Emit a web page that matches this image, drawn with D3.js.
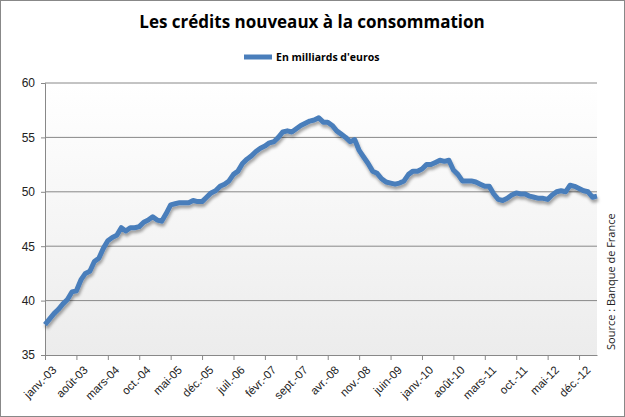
<!DOCTYPE html><html><head><meta charset="utf-8"><script src="https://cdn.jsdelivr.net/npm/d3@7"></script>
<style>body{margin:0;background:#fff}svg{font-family:"Open Sans",sans-serif}</style></head><body><svg id="c" width="625" height="417"></svg><script>
const tickLabels=["janv.-03","août-03","mars-04","oct.-04","mai-05","déc.-05","juil.-06","févr.-07","sept.-07","avr.-08","nov.-08","juin-09","janv.-10","août-10","mars-11","oct.-11","mai-12","déc.-12"];
const values=[37.8,38.3,38.8,39.2,39.7,40.1,40.8,40.9,
41.9,42.5,42.7,43.6,43.9,44.8,45.5,
45.8,46.0,46.7,46.4,46.7,46.7,46.8,
47.2,47.4,47.7,47.4,47.3,48.0,48.8,
48.9,49.0,49.0,49.0,49.2,49.1,49.1,
49.5,49.9,50.1,50.5,50.7,51.0,51.6,
51.9,52.6,53.0,53.3,53.7,54.0,54.2,
54.5,54.6,55.0,55.5,55.6,55.5,55.8,
56.1,56.3,56.5,56.6,56.8,56.4,56.4,
56.1,55.6,55.3,55.0,54.6,54.8,53.8,
53.2,52.6,51.9,51.7,51.2,50.9,50.8,
50.7,50.8,51.0,51.6,51.9,51.9,52.1,
52.5,52.5,52.7,52.9,52.8,52.9,52.0,
51.6,51.0,51.0,51.0,50.9,50.7,50.5,
50.5,49.8,49.3,49.2,49.4,49.7,49.9,
49.8,49.8,49.6,49.5,49.4,49.4,49.3,
49.7,50.0,50.1,50.0,50.6,50.5,50.3,
50.1,50.0,49.5,49.6];
const yTicks=[35,40,45,50,55,60];
const svg=d3.select("#c");
svg.append("rect").attr("x",0.5).attr("y",0.5).attr("width",624).attr("height",416).attr("fill","#fff").attr("stroke","#888");
const defs=svg.append("defs");
const g1=defs.append("linearGradient").attr("id","bg").attr("x1",0).attr("x2",0).attr("y1",0).attr("y2",1);
g1.append("stop").attr("offset","0").attr("stop-color","#ffffff");
g1.append("stop").attr("offset","1").attr("stop-color","#ececec");
const f=defs.append("filter").attr("id","sh").attr("x","-5%").attr("y","-5%").attr("width","110%").attr("height","120%");
f.append("feDropShadow").attr("dx",1).attr("dy",3).attr("stdDeviation",1.5).attr("flood-color","#000").attr("flood-opacity",0.35);
const L=45,R=597,T=83,B=355;
const x=d3.scaleLinear().domain([0,123]).range([L,R]);
const y=d3.scaleLinear().domain([35,60]).range([B,T]);
svg.append("rect").attr("x",L).attr("y",T).attr("width",R-L).attr("height",B-T).attr("fill","url(#bg)");
svg.selectAll(".gl").data(yTicks.slice(1)).join("line").attr("x1",L).attr("x2",R).attr("y1",d=>y(d)).attr("y2",d=>y(d)).attr("stroke","#888");
const ya=svg.append("g").attr("transform",`translate(${L},0)`).call(d3.axisLeft(y).tickValues(yTicks).tickSize(4).tickPadding(6));
ya.selectAll("text").attr("font-size",12).attr("fill","#222");
ya.selectAll("line,path").attr("stroke","#888");
const xa=svg.append("g").attr("transform",`translate(0,${B})`).call(d3.axisBottom(x).tickValues(d3.range(0,120,7)).tickFormat((d,i)=>tickLabels[i]).tickSize(5).tickSizeOuter(0));
xa.selectAll("line,path").attr("stroke","#888");
xa.selectAll("text").attr("font-size",11.5).attr("fill","#222").attr("text-anchor","end").attr("dy","0").attr("transform","translate(6,10) rotate(-45)");
svg.append("path").datum(values).attr("fill","none").attr("stroke","#4a7ebb").attr("stroke-width",5).attr("stroke-linejoin","round").attr("filter","url(#sh)")
 .attr("d",d3.line().x((d,i)=>x(i)).y(d=>y(d)));
svg.append("text").attr("x",312).attr("y",28).attr("text-anchor","middle").attr("font-size",17).attr("font-weight","bold").text("Les crédits nouveaux à la consommation");
svg.append("line").attr("x1",244).attr("x2",272).attr("y1",57).attr("y2",57).attr("stroke","#4a7ebb").attr("stroke-width",5);
svg.append("text").attr("x",276).attr("y",61).attr("font-size",10.5).attr("font-weight","bold").text("En milliards d'euros");
svg.append("text").attr("transform","translate(615,350) rotate(-90)").attr("font-size",11).attr("fill","#222").text("Source : Banque de France");
</script></body></html>
